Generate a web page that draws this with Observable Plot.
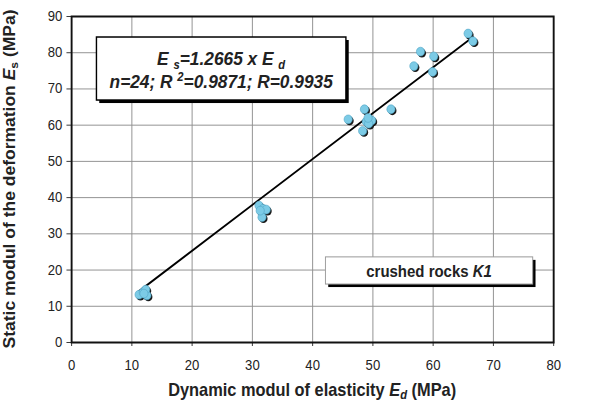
<!DOCTYPE html>
<html>
<head>
<meta charset="utf-8">
<script src="https://cdn.jsdelivr.net/npm/d3@7"></script>
<script src="https://cdn.jsdelivr.net/npm/@observablehq/plot@0.6"></script>
<style>
  html, body { margin: 0; padding: 0; background: #fff; }
  #chart { width: 600px; height: 403px; overflow: hidden; }
</style>
</head>
<body>
<div id="chart"></div>
<script>
// ---- data ----
const edValues = [11.2, 11.9, 12.5, 12.3, 12.0,
                  31.1, 31.8, 32.3, 31.6, 31.3,
                  45.9, 48.6, 48.3, 48.9, 49.8, 53.0, 49.3, 49.2,
                  56.8, 57.9, 60.1, 59.9,
                  65.8, 66.6];
const esValues = [13.2, 13.9, 13.0, 14.6, 13.5,
                  37.8, 36.9, 36.7, 34.6, 36.4,
                  61.6, 64.4, 58.4, 61.0, 61.3, 64.4, 60.4, 62.0,
                  76.3, 80.3, 79.0, 74.7,
                  85.3, 83.2];
const slope = 1.2665;
const xTicks = [0, 10, 20, 30, 40, 50, 60, 70, 80];
const yTicks = [0, 10, 20, 30, 40, 50, 60, 70, 80, 90];
const formulaLine2 = ["n=24; R", "2", "=0.9871; R=0.9935"];
const legendLabel = ["crushed rocks ", "K1"];

const points = edValues.map((x, i) => ({x, y: esValues[i]}));
const xmin = d3.min(edValues), xmax = d3.max(edValues);
const fit = [xmin, xmax].map(x => ({x, y: slope * x}));

const font = "'Liberation Sans', Arial, sans-serif";
// the reference is horizontally compressed: draw at 641 wide, show at 600
const W = 641, H = 403;

const plot = Plot.plot({
  width: W,
  height: H,
  marginLeft: 76,
  marginRight: 50,
  marginTop: 16,
  marginBottom: 61,
  style: {fontFamily: font, fontSize: "14px", color: "#222", background: "#fff"},
  x: {domain: [0, 80]},
  y: {domain: [0, 90]},
  marks: [
    Plot.gridX(xTicks, {stroke: "#909090", strokeOpacity: 1, strokeWidth: 1}),
    Plot.gridY(yTicks, {stroke: "#909090", strokeOpacity: 1, strokeWidth: 1}),
    Plot.axisX({ticks: xTicks, tickSize: 4, tickPadding: 14, label: null, stroke: "#333"}),
    Plot.axisY({ticks: yTicks, tickSize: 5, tickPadding: 5, label: null, stroke: "#333"}),
    Plot.line(fit, {x: "x", y: "y", stroke: "#000", strokeWidth: 2}),
    Plot.dot(points, {x: "x", y: "y", r: 4.4, fill: "#1a1a1a", dx: 1.5, dy: 1.5}),
    Plot.dot(points, {x: "x", y: "y", r: 4.4, fill: "#7ccbe6", stroke: "#4ea3c4", strokeWidth: 0.6}),
    Plot.frame({stroke: "#111", strokeWidth: 2})
  ]
});

plot.setAttribute("viewBox", `0 0 ${W} ${H}`);
plot.setAttribute("preserveAspectRatio", "none");
plot.setAttribute("width", 600);
plot.setAttribute("height", H);
plot.style.width = "600px";
plot.style.height = H + "px";
plot.style.maxWidth = "none";
document.getElementById("chart").appendChild(plot);

const svg = d3.select(plot);
const sx = plot.scale("x"), sy = plot.scale("y");
const X = v => sx.apply(v), Y = v => sy.apply(v);

// ---- axis titles ----
const xt = svg.append("text")
  .attr("x", (X(0) + X(80)) / 2)
  .attr("y", 396)
  .attr("text-anchor", "middle")
  .style("font", `bold 17.5px ${font}`)
  .attr("fill", "#222");
xt.append("tspan").text("Dynamic modul of elasticity ");
xt.append("tspan").text("E").style("font-style", "italic");
xt.append("tspan").text("d").style("font-style", "italic").attr("font-size", "12px").attr("dy", 3);
xt.append("tspan").text(" (MPa)").attr("dy", -3);

const yt = svg.append("text")
  .attr("transform", `translate(16,${(Y(0) + Y(90)) / 2}) rotate(-90)`)
  .attr("text-anchor", "middle")
  .style("font", `bold 17.5px ${font}`)
  .attr("fill", "#222");
yt.append("tspan").text("Static modul of the deformation ");
yt.append("tspan").text("E").style("font-style", "italic");
yt.append("tspan").text("s").attr("font-size", "12px").attr("dy", 3);
yt.append("tspan").text(" (MPa)").attr("dy", -3);

// ---- boxes ----
function box(x0, y0, x1, y1, border, bw) {
  const px0 = X(x0), px1 = X(x1), py0 = Y(y0), py1 = Y(y1);
  svg.append("rect").attr("x", px0 + 3).attr("y", py0 + 3)
    .attr("width", px1 - px0).attr("height", py1 - py0).attr("fill", "#000");
  svg.append("rect").attr("x", px0).attr("y", py0)
    .attr("width", px1 - px0).attr("height", py1 - py0)
    .attr("fill", "#fff").attr("stroke", border).attr("stroke-width", bw);
  return {cx: (px0 + px1) / 2, py0, py1};
}

const fb = box(4.2, 84.2, 45.6, 66.8, "#000", 1.5);
const f1 = svg.append("text").attr("x", fb.cx).attr("y", fb.py0 + 28)
  .attr("text-anchor", "middle")
  .style("font", `italic bold 18.5px ${font}`).attr("fill", "#222");
f1.append("tspan").text("E ");
f1.append("tspan").text("s").attr("font-size", "12px").attr("dy", 4);
f1.append("tspan").text("=1.2665 x E ").attr("dy", -4);
f1.append("tspan").text("d").attr("font-size", "12px").attr("dy", 4);

const f2 = svg.append("text").attr("x", fb.cx).attr("y", fb.py0 + 51)
  .attr("text-anchor", "middle")
  .style("font", `italic bold 18.5px ${font}`).attr("fill", "#222");
f2.append("tspan").text(formulaLine2[0] + " ");
f2.append("tspan").text(formulaLine2[1]).attr("font-size", "12px").attr("dy", -7);
f2.append("tspan").text(formulaLine2[2]).attr("dy", 7);

const lb = box(42.2, 23.5, 76.6, 16.0, "#999", 1);
const lt = svg.append("text").attr("x", lb.cx).attr("y", lb.py0 + 20)
  .attr("text-anchor", "middle")
  .style("font", `bold 16px ${font}`).attr("fill", "#222");
lt.append("tspan").text(legendLabel[0]);
lt.append("tspan").text(legendLabel[1]).style("font-style", "italic");
</script>
</body>
</html>
